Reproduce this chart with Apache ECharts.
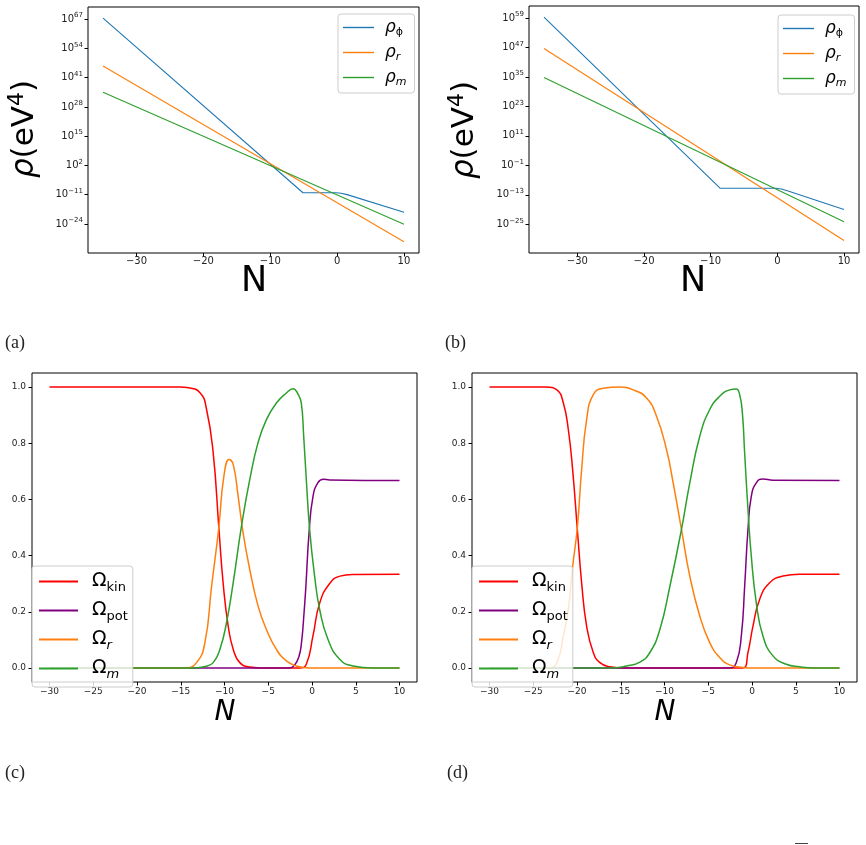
<!DOCTYPE html>
<html>
<head>
<meta charset="UTF-8">
<title>rho and Omega vs N</title>
<script src="https://cdn.jsdelivr.net/npm/echarts@6/dist/echarts.min.js"></script>
<style>
  html, body { margin: 0; padding: 0; background: #fff; }
  #main { width: 866px; height: 845px; }
</style>
</head>
<body>
<div id="main"></div>
<script>
// ---- values ----
// (a) energy densities rho (eV^4) vs N
var rhoPhiA = [[-35, 2.5e67], [-5.1, 7.9e-11], [-0.2, 7.9e-11], [0.6, 4.5e-11], [1.5, 1.1e-11], [10, 1.6e-19]];
var rhoRA = [[-35, 1.6e46], [10, 1.3e-32]];
var rhoMA = [[-35, 3.2e34], [10, 7.9e-25]];
// (b)
var rhoPhiB = [[-35, 2.0e59], [-8.6, 5.0e-11], [-0.2, 5.0e-11], [0.6, 2.5e-11], [1.5, 5.0e-12], [10, 1.0e-19]];
var rhoRB = [[-35, 4.0e46], [10, 2.5e-32]];
var rhoMB = [[-35, 6.3e34], [10, 1.0e-24]];

// (c) density parameters
var kinC = [[-30, 1], [-15, 1], [-14.3, 0.998], [-12.8, 0.98], [-12.05, 0.92], [-11.29, 0.765], [-10.65, 0.5], [-10.15, 0.3], [-9.58, 0.15], [-9.0, 0.066], [-8.25, 0.019], [-7.1, 0.003], [-6, 0], [-1.4, 0], [-0.65, 0.013], [0.11, 0.114], [0.87, 0.23], [2.0, 0.30], [3.2, 0.327], [4.7, 0.333], [10, 0.334]];
var potC = [[-30, 0], [-2.6, 0], [-2.0, 0.01], [-1.5, 0.04], [-1.2, 0.09], [-0.9, 0.2], [-0.7, 0.29], [-0.34, 0.48], [0.11, 0.61], [0.68, 0.66], [1.3, 0.672], [2.0, 0.669], [10, 0.667]];
var radC = [[-30, 0], [-14.5, 0], [-13.2, 0.019], [-12.24, 0.09], [-11.48, 0.29], [-10.65, 0.5], [-10.08, 0.68], [-9.47, 0.742], [-9.0, 0.724], [-8.44, 0.611], [-7.87, 0.48], [-7.11, 0.35], [-6.16, 0.22], [-5.21, 0.137], [-4.07, 0.066], [-2.93, 0.025], [-1.79, 0.007], [-0.27, 0], [10, 0]];
var matC = [[-30, 0], [-13.5, 0], [-12.2, 0.005], [-11.29, 0.019], [-10.53, 0.066], [-9.77, 0.161], [-9.01, 0.303], [-8.06, 0.505], [-7.11, 0.671], [-6.16, 0.803], [-5.21, 0.884], [-4.07, 0.943], [-2.93, 0.979], [-2.17, 0.994], [-1.6, 0.975], [-1.22, 0.943], [-0.95, 0.825], [-0.65, 0.67], [-0.27, 0.493], [0.30, 0.327], [0.87, 0.209], [1.82, 0.102], [3.16, 0.031], [4.68, 0.007], [7, 0], [10, 0]];

// (d)
var kinD = [[-30, 1], [-23.5, 1], [-22.3, 0.99], [-21.56, 0.943], [-20.99, 0.848], [-20.5, 0.706], [-19.96, 0.493], [-19.47, 0.303], [-18.9, 0.149], [-18.14, 0.055], [-17.38, 0.019], [-16.24, 0.004], [-15, 0], [-1.03, 0], [-0.46, 0.055], [0.11, 0.149], [0.87, 0.244], [2.02, 0.303], [3.54, 0.327], [5.44, 0.334], [10, 0.334]];
var potD = [[-30, 0], [-2.55, 0], [-1.79, 0.019], [-1.22, 0.114], [-0.84, 0.29], [-0.46, 0.493], [-0.08, 0.611], [0.49, 0.659], [1.25, 0.673], [2.4, 0.668], [10, 0.667]];
var radD = [[-30, 0], [-23.27, 0], [-22.3, 0.019], [-21.56, 0.114], [-20.99, 0.21], [-20.5, 0.36], [-19.96, 0.5], [-19.47, 0.706], [-18.9, 0.884], [-18.14, 0.973], [-17.0, 0.996], [-15.1, 1.0], [-13.57, 0.99], [-12.05, 0.961], [-10.91, 0.896], [-9.77, 0.777], [-9.01, 0.659], [-8.06, 0.493], [-7.11, 0.327], [-5.97, 0.185], [-4.83, 0.09], [-3.69, 0.037], [-2.55, 0.011], [-1.03, 0.002], [0.11, 0], [10, 0]];
var matD = [[-30, 0], [-16.24, 0], [-14.33, 0.007], [-12.81, 0.021], [-11.67, 0.055], [-10.53, 0.137], [-9.39, 0.29], [-8.06, 0.493], [-7.11, 0.659], [-5.97, 0.825], [-4.83, 0.92], [-3.69, 0.967], [-2.55, 0.99], [-1.79, 0.993], [-1.41, 0.973], [-1.1, 0.908], [-0.84, 0.765], [-0.46, 0.564], [-0.08, 0.398], [0.49, 0.232], [1.25, 0.114], [2.4, 0.043], [3.92, 0.013], [5.44, 0.004], [7, 0], [10, 0]];

// tick values
var xTicksTop = [-30, -20, -10, 0, 10];
var xTicksBottom = [-30, -25, -20, -15, -10, -5, 0, 5, 10];
var yTicksA = [1e-24, 1e-11, 1e2, 1e15, 1e28, 1e41, 1e54, 1e67];
var yTicksB = [1e-25, 1e-13, 1e-1, 1e11, 1e23, 1e35, 1e47, 1e59];
var yTicksOmega = [0, 0.2, 0.4, 0.6, 0.8, 1.0];

var legendText = {
  rho_phi: '{g|ρ}{sb|ϕ}',
  rho_r: '{g|ρ}{si|r}',
  rho_m: '{g|ρ}{si|m}',
  kin: '{o|Ω}{sb|kin}',
  pot: '{o|Ω}{sb|pot}',
  rad: '{o|Ω}{si|r}',
  mat: '{o|Ω}{si|m}'
};

var chart = echarts.init(document.getElementById('main'));
var FONT = 'DejaVu Sans';

function minus(v) { return String(v).replace('-', '\u2212'); }
function powLabel(v) {
  var e = Math.round(Math.log(v) / Math.LN10);
  return '{b|10}{s|' + minus(e) + '}';
}

function xAxisCfg(idx, min, max, ticks, fs, margin) {
  return {
    gridIndex: idx, type: 'value', min: min, max: max,
    splitLine: {show: false}, axisLine: {show: false, onZero: false},
    axisTick: {customValues: ticks, length: 3.5, lineStyle: {color: '#000', width: 1}},
    axisLabel: {customValues: ticks, formatter: function (v) { return minus(v); },
      fontSize: fs, margin: margin, color: '#222', fontFamily: FONT}
  };
}
function logAxisCfg(idx, min, max, ticks) {
  return {
    gridIndex: idx, type: 'log', logBase: 10, min: min, max: max,
    splitLine: {show: false}, axisLine: {show: false, onZero: false},
    axisTick: {customValues: ticks, length: 3.5, lineStyle: {color: '#000', width: 1}},
    axisLabel: {customValues: ticks, formatter: powLabel, margin: 5,
      rich: {
        b: {fontSize: 10, lineHeight: 14, fontFamily: FONT, color: '#222'},
        s: {fontSize: 7, lineHeight: 14, padding: [0, 0, 7, 0], fontFamily: FONT, color: '#222'}
      }}
  };
}
function omegaAxisCfg(idx) {
  return {
    gridIndex: idx, type: 'value', min: -0.05, max: 1.05,
    splitLine: {show: false}, axisLine: {show: false, onZero: false},
    axisTick: {customValues: yTicksOmega, length: 3.5, lineStyle: {color: '#000', width: 1}},
    axisLabel: {customValues: yTicksOmega, formatter: function (v) { return v.toFixed(1); },
      fontSize: 9, margin: 6, color: '#222', fontFamily: FONT}
  };
}
function line(name, idx, data, color, width, smooth) {
  return {
    name: name, type: 'line', xAxisIndex: idx, yAxisIndex: idx, data: data,
    symbol: 'none', smooth: smooth ? 0.5 : false,
    lineStyle: {color: color, width: width}, itemStyle: {color: color},
    silent: true, z: 2
  };
}
function legendCfg(left, top, names, pad, itemW, gap, big) {
  var rich = big ? {
    o: {fontSize: 19, lineHeight: 24, padding: [0, 0, 0, 9], fontFamily: FONT, color: '#000'},
    sb: {fontSize: 13, lineHeight: 24, padding: [12, 0, 0, 0], fontFamily: FONT, color: '#000'},
    si: {fontSize: 13, lineHeight: 24, padding: [12, 0, 0, 0], fontFamily: FONT, fontStyle: 'italic', color: '#000'}
  } : {
    g: {fontSize: 17, lineHeight: 19, padding: [0, 0, 0, 6], fontFamily: FONT, fontStyle: 'italic', color: '#000'},
    sb: {fontSize: 11, lineHeight: 19, padding: [10, 0, 0, 0], fontFamily: FONT, color: '#000'},
    si: {fontSize: 11, lineHeight: 19, padding: [10, 0, 0, 0], fontFamily: FONT, fontStyle: 'italic', color: '#000'}
  };
  return {
    left: left, top: top, orient: 'vertical', data: names, selectedMode: false,
    icon: 'rect',
    itemWidth: itemW, itemHeight: big ? 2 : 1.4, itemGap: gap, padding: pad,
    backgroundColor: 'rgba(255,255,255,0.8)', borderColor: '#ccc', borderWidth: 1, borderRadius: 3,
    formatter: function (n) { return legendText[n]; },
    textStyle: {rich: rich}
  };
}

var gridStyle = {show: true, borderColor: '#000', borderWidth: 1, backgroundColor: 'transparent'};
function grid(l, t, w, h) { return Object.assign({left: l, top: t, width: w, height: h}, gridStyle); }

var option = {
  animation: false,
  backgroundColor: '#fff',
  grid: [grid(88, 7, 331, 246), grid(529, 6, 330, 247), grid(32, 373, 385, 309), grid(472, 373, 385, 309)],
  xAxis: [
    xAxisCfg(0, -37.25, 12.25, xTicksTop, 10, 3),
    xAxisCfg(1, -37.25, 12.25, xTicksTop, 10, 3),
    xAxisCfg(2, -32, 12, xTicksBottom, 9, 5),
    xAxisCfg(3, -32, 12, xTicksBottom, 9, 5)
  ],
  yAxis: [
    logAxisCfg(0, 1.35e-37, 2.3e72, yTicksA),
    logAxisCfg(1, 2.1e-37, 7.4e63, yTicksB),
    omegaAxisCfg(2),
    omegaAxisCfg(3)
  ],
  legend: [
    legendCfg(338, 14, ['rho_phi', 'rho_r', 'rho_m'], [3, 8, 5, 5], 31, 4, false),
    legendCfg(778, 15, ['rho_phi', 'rho_r', 'rho_m'], [3, 8, 5, 5], 31, 4, false),
    legendCfg(32, 566, ['kin', 'pot', 'rad', 'mat'], [3, 5, 6, 7], 39, 4, true),
    legendCfg(472, 566, ['kin', 'pot', 'rad', 'mat'], [3, 5, 6, 7], 39, 4, true)
  ],
  series: [
    line('rho_phi', 0, rhoPhiA, '#1f77b4', 1.1, false),
    line('rho_r', 0, rhoRA, '#ff7f0e', 1.1, false),
    line('rho_m', 0, rhoMA, '#2ca02c', 1.1, false),
    line('rho_phi', 1, rhoPhiB, '#1f77b4', 1.1, false),
    line('rho_r', 1, rhoRB, '#ff7f0e', 1.1, false),
    line('rho_m', 1, rhoMB, '#2ca02c', 1.1, false),
    line('kin', 2, kinC, '#ff0000', 1.5, true),
    line('pot', 2, potC, '#800080', 1.5, true),
    line('rad', 2, radC, '#ff7f0e', 1.5, true),
    line('mat', 2, matC, '#2ca02c', 1.5, true),
    line('kin', 3, kinD, '#ff0000', 1.5, true),
    line('pot', 3, potD, '#800080', 1.5, true),
    line('rad', 3, radD, '#ff7f0e', 1.5, true),
    line('mat', 3, matD, '#2ca02c', 1.5, true)
  ],
  graphic: [
    // axis titles
    {type: 'text', x: 25, y: 129, rotation: Math.PI / 2, style: {text: '{i|ρ}{n|(eV}{s|4}{n|)}', align: 'center', verticalAlign: 'middle',
      rich: {i: {fontSize: 31, fontStyle: 'italic', fontFamily: FONT, lineHeight: 36, fill: '#000'}, n: {fontSize: 31, fontFamily: FONT, lineHeight: 36, fill: '#000'},
             s: {fontSize: 22, fontFamily: FONT, lineHeight: 36, padding: [0, 0, 16, 0], fill: '#000'}}}},
    {type: 'text', x: 465, y: 130, rotation: Math.PI / 2, style: {text: '{i|ρ}{n|(eV}{s|4}{n|)}', align: 'center', verticalAlign: 'middle',
      rich: {i: {fontSize: 31, fontStyle: 'italic', fontFamily: FONT, lineHeight: 36, fill: '#000'}, n: {fontSize: 31, fontFamily: FONT, lineHeight: 36, fill: '#000'},
             s: {fontSize: 22, fontFamily: FONT, lineHeight: 36, padding: [0, 0, 16, 0], fill: '#000'}}}},
    {type: 'text', x: 254, y: 282, style: {text: 'N', fontSize: 35, fontFamily: FONT, fill: '#000', align: 'center', verticalAlign: 'middle'}},
    {type: 'text', x: 693, y: 282, style: {text: 'N', fontSize: 35, fontFamily: FONT, fill: '#000', align: 'center', verticalAlign: 'middle'}},
    {type: 'text', x: 225, y: 713, style: {text: 'N', fontSize: 28, fontStyle: 'italic', fontFamily: FONT, fill: '#000', align: 'center', verticalAlign: 'middle'}},
    {type: 'text', x: 665, y: 713, style: {text: 'N', fontSize: 28, fontStyle: 'italic', fontFamily: FONT, fill: '#000', align: 'center', verticalAlign: 'middle'}},
    // sub-figure captions
    {type: 'text', x: 5, y: 343, style: {text: '(a)', fontSize: 18, fontFamily: 'Liberation Serif', fill: '#222', verticalAlign: 'middle'}},
    {type: 'text', x: 445, y: 343, style: {text: '(b)', fontSize: 18, fontFamily: 'Liberation Serif', fill: '#222', verticalAlign: 'middle'}},
    {type: 'text', x: 5, y: 773, style: {text: '(c)', fontSize: 18, fontFamily: 'Liberation Serif', fill: '#222', verticalAlign: 'middle'}},
    {type: 'text', x: 447, y: 773, style: {text: '(d)', fontSize: 18, fontFamily: 'Liberation Serif', fill: '#222', verticalAlign: 'middle'}},
    // cut-off fragment at the bottom edge
    {type: 'line', shape: {x1: 795, y1: 843.5, x2: 808, y2: 843.5}, style: {stroke: '#444', lineWidth: 1}}
  ]
};
chart.setOption(option);
</script>
</body>
</html>
